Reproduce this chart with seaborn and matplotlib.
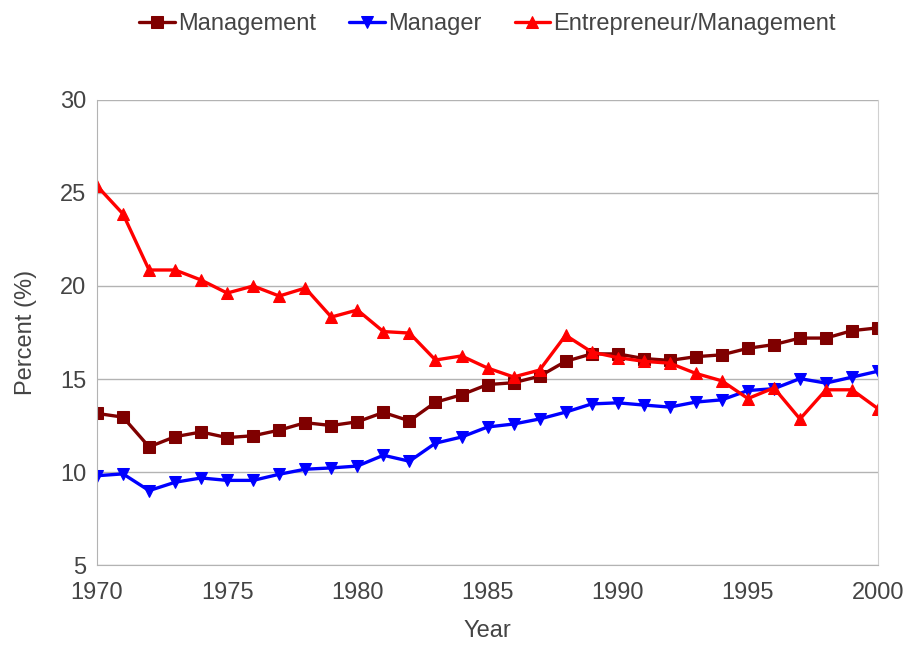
import pandas as pd
import numpy as np
import matplotlib
matplotlib.use("Agg")
import matplotlib.pyplot as plt
import seaborn as sns

sns.set_style("white")
plt.rcParams['font.family'] = ['Liberation Sans', 'DejaVu Sans']

# data
years = list(range(1970, 2001))
management = [13.15, 12.95, 11.35, 11.9, 12.15, 11.85, 11.95, 12.25, 12.65, 12.5,
              12.7, 13.2, 12.75, 13.75, 14.15, 14.7, 14.8, 15.15, 15.95, 16.35,
              16.35, 16.1, 16.0, 16.2, 16.3, 16.65, 16.85, 17.2, 17.2, 17.6, 17.75]
manager = [9.8, 9.9, 9.0, 9.45, 9.68, 9.55, 9.55, 9.88, 10.15, 10.22,
           10.32, 10.9, 10.58, 11.55, 11.88, 12.42, 12.58, 12.85, 13.22, 13.66,
           13.72, 13.6, 13.49, 13.76, 13.88, 14.38, 14.48, 15.02, 14.78, 15.1, 15.42]
entrepreneur = [25.38, 23.87, 20.86, 20.86, 20.32, 19.62, 20.0, 19.46, 19.89, 18.33,
                18.71, 17.55, 17.47, 16.02, 16.24, 15.59, 15.11, 15.48, 17.35, 16.45,
                16.15, 15.95, 15.85, 15.3, 14.9, 13.95, 14.52, 12.85, 14.42, 14.42, 13.4]

series = [
    ("Management", management, "#7f0000", "s"),
    ("Manager", manager, "#0000ff", "v"),
    ("Entrepreneur/Management", entrepreneur, "#ff0000", "^"),
]

fig = plt.figure(figsize=(9.09, 6.45), dpi=100)
ax = fig.add_axes([0.1067, 0.124, 0.8593, 0.721])

for name, vals, col, mk in series:
    df = pd.DataFrame({"Year": years, "Percent": vals})
    sns.lineplot(data=df, x="Year", y="Percent", ax=ax, color=col, marker=mk,
                 markersize=8, markeredgecolor=col, linewidth=2.4, label=name)

ax.set_xlim(1970, 2000)
ax.set_ylim(5, 30)
ax.set_xticks(range(1970, 2001, 5))
ax.set_yticks(range(5, 31, 5))
ax.yaxis.grid(True, color="#b3b3b3", linewidth=1)
ax.xaxis.grid(False)
for s in ["left", "bottom"]:
    ax.spines[s].set_color("#b3b3b3")
ax.spines["right"].set_color("#d0d0d0")
ax.spines["top"].set_visible(False)
ax.tick_params(axis="both", colors="#b3b3b3", labelcolor="#444444",
               labelsize=17, length=4, direction="out")
ax.tick_params(axis="x", pad=8)
ax.set_xlabel("Year", fontsize=17, color="#444444", labelpad=12)
ax.set_ylabel("Percent (%)", fontsize=17, color="#444444", labelpad=17)

ax.legend(loc="upper center", bbox_to_anchor=(0.5, 1.232), ncol=3, frameon=False,
          fontsize=17, labelcolor="#444444", handlelength=1.5, handletextpad=0.15,
          columnspacing=1.4)

fig.savefig("out.png", dpi=100)
